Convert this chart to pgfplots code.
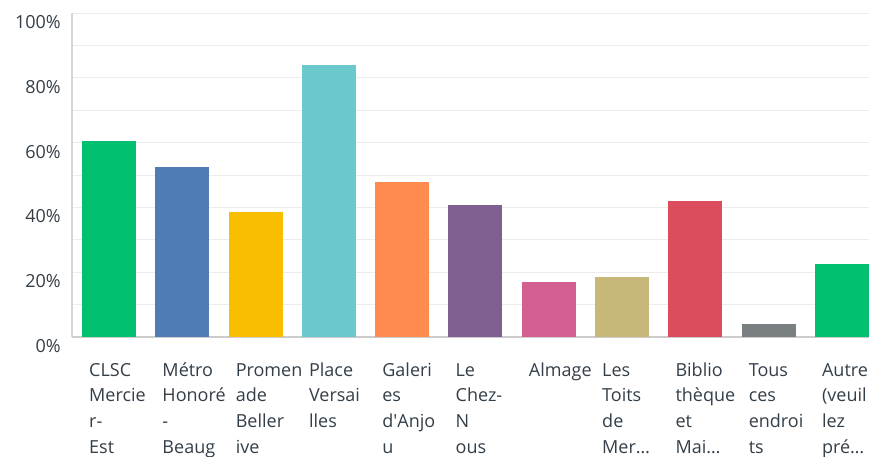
\documentclass[border=0pt]{standalone}
\usepackage{pgfplots}
\pgfplotsset{compat=1.18}
\usepackage{fontspec}
\setmainfont{Open Sans}

\definecolor{cA}{HTML}{00BF6F}
\definecolor{cB}{HTML}{507CB6}
\definecolor{cC}{HTML}{F9BE00}
\definecolor{cD}{HTML}{6BC8CD}
\definecolor{cE}{HTML}{FF8B4F}
\definecolor{cF}{HTML}{7F5E90}
\definecolor{cG}{HTML}{D25F90}
\definecolor{cH}{HTML}{C7B879}
\definecolor{cI}{HTML}{DB4D5C}
\definecolor{cJ}{HTML}{7A8081}
\definecolor{gridc}{HTML}{ECECEC}
\definecolor{xaxc}{HTML}{CCCCCC}
\definecolor{yaxc}{HTML}{D6D6D6}
\definecolor{textc}{HTML}{333E48}

\begin{document}
\begin{tikzpicture}[x=1pt,y=1pt]
\useasboundingbox (0,0) rectangle (869,456);
\clip (0,0) rectangle (869,456);
\begin{axis}[
    at={(72pt,119pt)}, anchor=south west,
    scale only axis, width=797pt, height=324pt,
    xmin=-0.505, xmax=10.37,
    ymin=0, ymax=100,
    ybar, bar width=54pt, bar shift=0pt,
    xtick={0,...,10},
    xticklabels={
        {\strut CLSC\\Mercie\\r-\\Est},
        {\strut Métro\\Honoré\\-\\Beaug},
        {\strut Promen\\ade\\Beller\\ive},
        {\strut Place\\Versai\\lles},
        {\strut Galeri\\es\\d\textquotesingle Anjo\\u},
        {\strut Le\\Chez-\\N\\ous},
        {\strut Almage},
        {\strut Les\\Toits\\de\\Mer…},
        {\strut Biblio\\thèque\\et\\Mai…},
        {\strut Tous\\ces\\endroi\\ts},
        {\strut Autre\\(veuil\\lez\\pré…}},
    ytick={0,20,...,100},
    minor ytick={10,30,...,90},
    yticklabels={0\%,20\%,40\%,60\%,80\%,100\%},
    ymajorgrids, yminorgrids,
    major grid style={line width=1pt, color=gridc},
    minor grid style={line width=1pt, color=gridc},
    major tick length=0pt, minor tick length=0pt,
    axis x line*=bottom, axis y line*=left,
    x axis line style={line width=2pt, color=xaxc, -},
    y axis line style={line width=1.4pt, color=yaxc, -},
    tick label style={font=\fontsize{18}{25.7}\selectfont, text=textc, inner sep=0pt},
    xticklabel style={anchor=north west, align=left, xshift=-20pt, yshift=-21pt},
    yticklabel style={anchor=east, xshift=-11pt, yshift=-9pt},
]
\addplot[fill=cA, draw=none] coordinates {(0,60.6)};
\addplot[fill=cB, draw=none] coordinates {(1,52.6)};
\addplot[fill=cC, draw=none] coordinates {(2,38.7)};
\addplot[fill=cD, draw=none] coordinates {(3,84.1)};
\addplot[fill=cE, draw=none] coordinates {(4,47.7)};
\addplot[fill=cF, draw=none] coordinates {(5,40.6)};
\addplot[fill=cG, draw=none] coordinates {(6,17.1)};
\addplot[fill=cH, draw=none] coordinates {(7,18.6)};
\addplot[fill=cI, draw=none] coordinates {(8,42.1)};
\addplot[fill=cJ, draw=none] coordinates {(9,4.1)};
\addplot[fill=cA, draw=none] coordinates {(10,22.4)};
\end{axis}
\end{tikzpicture}
\end{document}
